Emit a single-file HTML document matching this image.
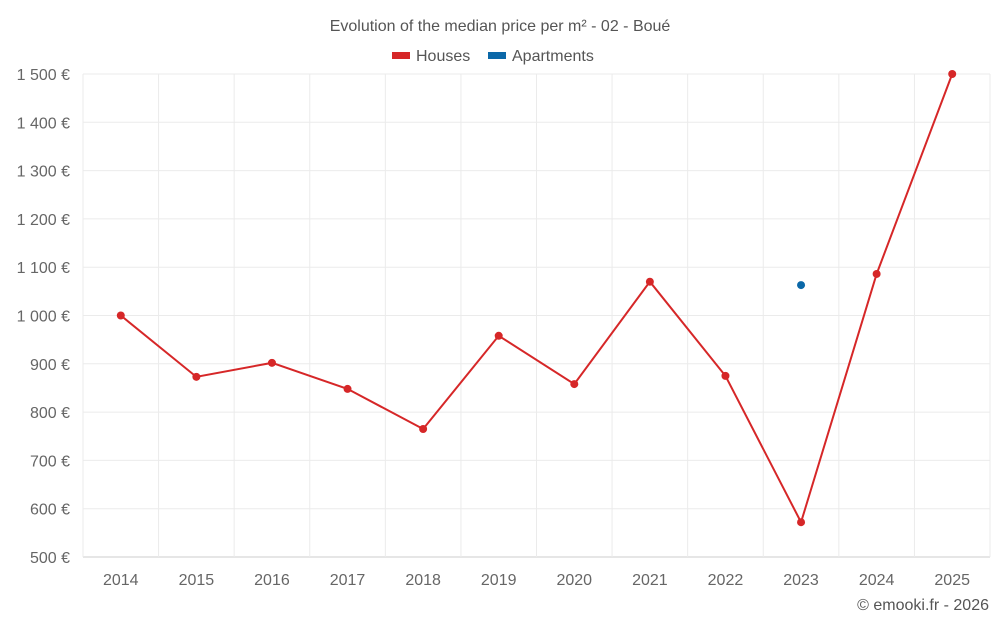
<!DOCTYPE html>
<html><head><meta charset="utf-8"><style>
html,body{margin:0;padding:0;background:#fff;}
svg text{font-family:"Liberation Sans",sans-serif;}
</style></head><body>
<svg id="chart" width="1000" height="625">
<text x="500" y="31" text-anchor="middle" font-size="16" fill="#555">Evolution of the median price per m² - 02 - Boué</text>
<g>
<rect x="392" y="52" width="18" height="7" fill="#d62728"/>
<text x="416" y="61" font-size="16" fill="#555">Houses</text>
<rect x="488" y="52" width="18" height="7" fill="#0b68a8"/>
<text x="512" y="61" font-size="16" fill="#555">Apartments</text>
</g>
<g id="grid"></g><g id="axes"></g><g id="marks"></g>
<text x="989" y="610" text-anchor="end" font-size="16" fill="#555">© emooki.fr - 2026</text>
</svg>
<script>
const categories=["2014","2015","2016","2017","2018","2019","2020","2021","2022","2023","2024","2025"];
const houses=[1000,873,902,848,765,958,858,1070,875,572,1086,1500];
const apartments=[null,null,null,null,null,null,null,null,null,1063,null,null];
const yTicks=[500,600,700,800,900,1000,1100,1200,1300,1400,1500];
const NS="http://www.w3.org/2000/svg";
const L=83,R=990,T=74,B=557,ymin=500,ymax=1500;
const band=(R-L)/categories.length;
const x=i=>L+band*(i+0.5);
const y=v=>B-(v-ymin)/(ymax-ymin)*(B-T);
function mk(t,a,p){const e=document.createElementNS(NS,t);for(const k in a)e.setAttribute(k,a[k]);p.appendChild(e);return e;}
const grid=document.getElementById('grid'),axes=document.getElementById('axes'),marks=document.getElementById('marks');
yTicks.forEach(v=>{
 const l=mk('line',{x1:L,x2:R,y1:y(v),y2:y(v),stroke:v===ymin?'#ccc':'#ebebeb'},grid);
 
 
 const t=mk('text',{x:70,y:y(v)+6,'text-anchor':'end','font-size':16,fill:'#666'},axes);
 t.textContent=(v>=1000?Math.floor(v/1000)+' '+String(v%1000).padStart(3,'0'):v)+' €';
 
 
});
for(let i=0;i<=categories.length;i++){
 const l=mk('line',{x1:L+band*i,x2:L+band*i,y1:T,y2:B+(i===0?0:0),stroke:'#ebebeb'},grid);
 
 
}
categories.forEach((c,i)=>{
 const t=mk('text',{x:x(i),y:585,'text-anchor':'middle','font-size':16,fill:'#666'},axes);
 t.textContent=c;
 
 
});
const pts=houses.map((v,i)=>v==null?null:[x(i),y(v)]).filter(p=>p);
const pl=mk('polyline',{points:pts.map(p=>p.join(',')).join(' '),fill:'none',stroke:'#d62728','stroke-width':2},marks);


houses.forEach((v,i)=>{if(v==null)return;
 const c=mk('circle',{cx:x(i),cy:y(v),r:4,fill:'#d62728'},marks);
 
 
});
apartments.forEach((v,i)=>{if(v==null)return;
 const c=mk('circle',{cx:x(i),cy:y(v),r:4,fill:'#0b68a8'},marks);
 
 
});
</script>
</body></html>
